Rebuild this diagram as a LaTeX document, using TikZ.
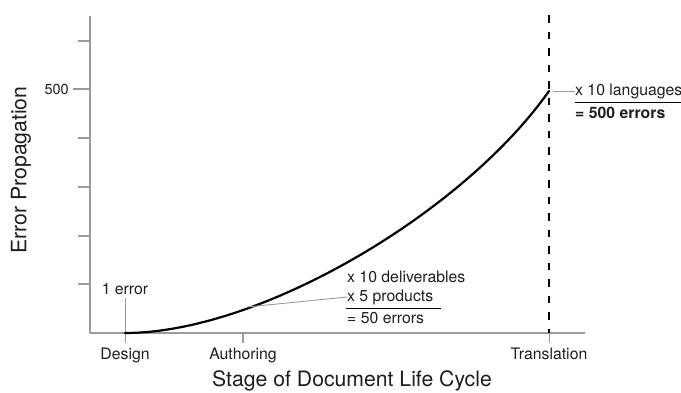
\documentclass[tikz,border=0pt]{standalone}
\usepackage{fontspec}
\setmainfont{TeX Gyre Heros}
\usetikzlibrary{positioning}
\definecolor{axisgrey}{RGB}{155,155,155}
\definecolor{inkgrey}{RGB}{30,30,30}
\tikzset{
  axisline/.style={axisgrey, line width=1.3pt},
  pointer/.style={axisgrey, line width=0.9pt},
  lbl/.style={inner sep=0pt, text=inkgrey, font=\fontsize{15.8}{18}\selectfont},
  title/.style={inner sep=0pt, text=inkgrey, font=\fontsize{21.2}{24}\selectfont},
}
\begin{document}
\begin{tikzpicture}[x=1pt, y=-1pt, line join=round, line cap=butt]
\useasboundingbox (0,0) rectangle (681,392);
\path
  (90,16) coordinate (ytop)
  (90,333) coordinate (O)
  (585,333) coordinate (xend)
  (125,333) coordinate (D)
  (243,333) coordinate (A)
  (549,333) coordinate (T)
  (549,91) coordinate (E)
  (549,15) coordinate (Ttop)
  (247,307) coordinate (P)
  (261,333) coordinate (c1)
  (464,212) coordinate (c2)
  ;
% axes
\draw[axisline] (ytop) -- (O) -- (xend);
\foreach \y in {41,138,187,236,284}
  \draw[axisline] (78,\y) -- (90,\y);
\draw[axisline] (73,89) coordinate (t500) -- (90,89);
\node[lbl, font=\fontsize{14.5}{16}\selectfont, left=4pt of t500] (n500) {500};
% stage ticks
\draw[pointer] (125,298) coordinate (Dtop) -- (125,343) coordinate (Dbot);
\draw[axisline] (A) -- (243,343) coordinate (Abot);
\draw[pointer] (T) -- (549,343) coordinate (Tbot);
\node[lbl, below=5pt of Dbot] (design) {Design};
\node[lbl, below=5pt of Abot] (author) {Authoring};
\node[lbl, below=5pt of Tbot] (transl) {Translation};
\node[lbl, above=3pt of Dtop] (err1) {1 error};
% translation stage
\draw[line width=1.8pt, dash pattern=on 7.5pt off 9pt] (Ttop) -- (T);
% error curve
\draw[line width=2.2pt, line cap=round] (D) .. controls (c1) and (c2) .. (E);
% labels
\node[lbl, anchor=west] (deliv) at (347,277) {x 10 deliverables};
\node[lbl, anchor=west] (prod) at (347,297) {x 5 products};
\node[lbl, anchor=west] (err50) at (347,318) {= 50 errors};
\draw[line width=0.8pt] (346,308) -- (441,308);
\draw[pointer] (P) -- (prod.west);
\node[lbl, anchor=west] (lang) at (575,91) {x 10 languages};
\node[lbl, anchor=west, font=\fontsize{15.8}{18}\bfseries] (err500) at (575,113) {= 500 errors};
\draw[line width=0.8pt] (575,102) -- (681,102);
\draw[pointer] (553,91) -- (lang.west);
% axis titles
\node[title] (xtitle) at (352,381) {Stage of Document Life Cycle};
\node[title, rotate=90] (ytitle) at (21,170) {Error Propagation};
\end{tikzpicture}
\end{document}
